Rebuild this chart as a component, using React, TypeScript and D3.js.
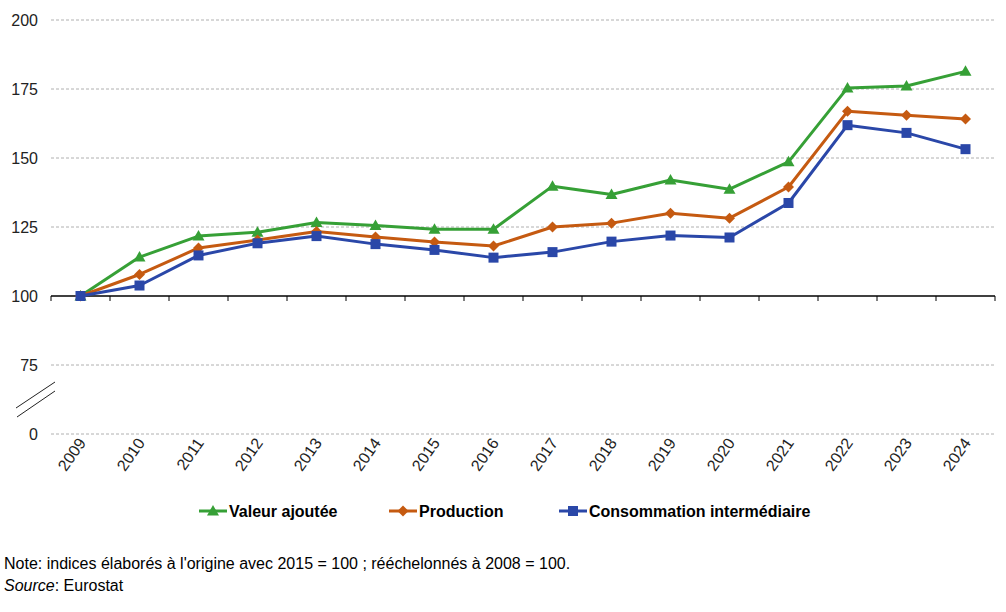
import React from "react";
import * as d3 from "d3";

const years = ["2009","2010","2011","2012","2013","2014","2015","2016","2017","2018","2019","2020","2021","2022","2023","2024"];
const valeurAjoutee = [100, 114.1, 121.7, 123.1, 126.6, 125.5, 124.2, 124.2, 139.8, 136.8, 142.0, 138.7, 148.6, 175.4, 176.1, 181.4];
const production = [100, 107.8, 117.4, 120.3, 123.4, 121.4, 119.6, 118.1, 125.0, 126.4, 130.0, 128.2, 139.5, 166.9, 165.5, 164.1];
const consommation = [100, 103.8, 114.7, 119.1, 121.7, 118.8, 116.7, 113.9, 115.9, 119.7, 121.9, 121.2, 133.7, 161.9, 159.1, 153.2];
const yTicks = [50, 75, 100, 125, 150, 175, 200];
const yTickLabels = ["0", "75", "100", "125", "150", "175", "200"];
const seriesNames = ["Valeur ajoutée", "Production", "Consommation intermédiaire"];

const colors = ["#36a036", "#c55a11", "#2a47a8"];
const shapes = ["triangle", "diamond", "square"];

const W = 1006, H = 612;
const left = 51, right = 995, top = 20, bottom = 434;

function Marker({ shape, x, y, color }: { shape: string; x: number; y: number; color: string }) {
  if (shape === "square") return <rect x={x - 5} y={y - 5} width={10} height={10} fill={color} />;
  if (shape === "diamond") return <path d={`M${x},${y - 5.5}L${x + 5.5},${y}L${x},${y + 5.5}L${x - 5.5},${y}Z`} fill={color} />;
  return <path d={`M${x},${y - 6}L${x + 6},${y + 4.5}L${x - 6},${y + 4.5}Z`} fill={color} />;
}

export default function App() {
  const x = d3.scaleBand().domain(years).range([left, right]);
  const y = d3.scaleLinear().domain([50, 200]).range([bottom, top]);
  const cx = (yr: string) => (x(yr) as number) + x.bandwidth() / 2;
  const data = [valeurAjoutee, production, consommation];
  const line = d3.line<number>().x((_, i) => cx(years[i])).y((v) => y(v));
  const font = "Arial, 'Liberation Sans', sans-serif";
  const legendX = [199, 389, 559];
  const legendY = 511;
  const boundaries = years.map((yr) => x(yr) as number).concat([right]);

  return (
    <svg width={W} height={H} style={{ position: "absolute", left: 0, top: 0, fontFamily: font }}>
      <rect width={W} height={H} fill="#fff" />
      {yTicks.map((t, i) => (
        <g key={t}>
          {t !== 100 && (
            <line x1={left} x2={right} y1={y(t)} y2={y(t)} stroke="#b0b0b0" strokeWidth={1} strokeDasharray="3,2" />
          )}
          <text x={38} y={y(t)} dy="0.35em" textAnchor="end" fontSize={16} fill="#222">{yTickLabels[i]}</text>
        </g>
      ))}
      {/* axis break */}
      <line x1={16} y1={408} x2={55} y2={382} stroke="#222" strokeWidth={1} />
      <line x1={17} y1={417} x2={55} y2={391} stroke="#222" strokeWidth={1} />
      {/* x axis at 100 */}
      <line x1={left} x2={right} y1={y(100)} y2={y(100)} stroke="#000" strokeWidth={1.5} />
      {boundaries.map((b, i) => (
        <line key={i} x1={b} x2={b} y1={y(100)} y2={y(100) + 5} stroke="#000" strokeWidth={1} />
      ))}
      {years.map((yr) => (
        <text key={yr} transform={`translate(${cx(yr) + 6},${443}) rotate(-55)`} textAnchor="end" fontSize={16} fill="#222">{yr}</text>
      ))}
      {data.map((d, si) => (
        <g key={si}>
          <path d={line(d) as string} fill="none" stroke={colors[si]} strokeWidth={3} strokeLinejoin="round" />
          {d.map((v, i) => (
            <Marker key={i} shape={shapes[si]} x={cx(years[i])} y={y(v)} color={colors[si]} />
          ))}
        </g>
      ))}
      {seriesNames.map((n, i) => (
        <g key={n}>
          <line x1={legendX[i]} x2={legendX[i] + 28} y1={legendY} y2={legendY} stroke={colors[i]} strokeWidth={3} />
          <Marker shape={shapes[i]} x={legendX[i] + 14} y={legendY} color={colors[i]} />
          <text x={legendX[i] + 30} y={legendY} dy="0.35em" fontSize={16} fontWeight="bold" fill="#000">{n}</text>
        </g>
      ))}
      <text x={4} y={569} fontSize={16} fill="#000">Note: indices élaborés à l'origine avec 2015 = 100 ; rééchelonnés à 2008 = 100.</text>
      <text x={4} y={591} fontSize={16} fill="#000"><tspan fontStyle="italic">Source</tspan>: Eurostat</text>
    </svg>
  );
}
